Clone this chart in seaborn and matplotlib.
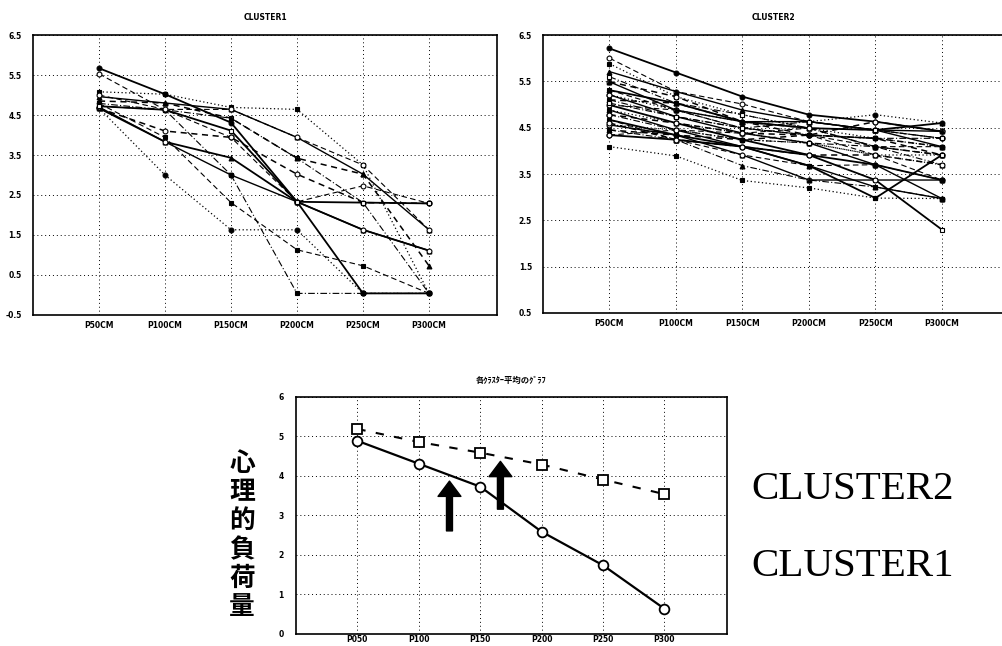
import matplotlib
matplotlib.use("Agg")
import matplotlib.pyplot as plt
import seaborn as sns

sns.set_theme(style="white")
plt.rcParams['font.family'] = ['DejaVu Sans', 'Noto Sans CJK JP']
plt.rcParams['text.color'] = 'black'
plt.rcParams['xtick.color'] = 'black'
plt.rcParams['ytick.color'] = 'black'

# ---- data -------------------------------------------------------------
dist_labels = ['P50CM', 'P100CM', 'P150CM', 'P200CM', 'P250CM', 'P300CM']
mean_labels = ['P050', 'P100', 'P150', 'P200', 'P250', 'P300']

# cluster 1 individual profiles
c1_lines = [
    [5.67, 5.02, 4.31, 2.33, 0.04, 0.04],
    [5.53, 4.63, 3.94, 2.33, 2.73, 2.29],
    [5.08, 5.02, 4.69, 4.64, 3.25, 0.04],
    [4.96, 4.80, 4.64, 3.94, 3.02, 1.63],
    [4.79, 4.63, 4.42, 3.42, 2.31, 0.04],
    [4.67, 4.10, 3.94, 3.02, 2.31, 2.29],
    [4.67, 3.83, 3.43, 2.33, 1.63, 1.11],
    [4.79, 3.94, 2.31, 1.13, 0.73, 0.04],
    [4.67, 3.00, 1.63, 1.63, 0.04, 0.04],
    [4.70, 3.83, 3.00, 2.33, 1.63, 1.11],
    [4.72, 4.63, 3.00, 0.04, 0.04, 0.04],
    [4.85, 4.80, 4.42, 3.42, 3.02, 0.73],
    [4.72, 4.63, 4.11, 2.33, 2.31, 2.29],
    [5.00, 4.64, 4.64, 3.94, 3.25, 1.63],
]

# cluster 2 individual profiles
c2_lines = [
    [6.21, 5.69, 5.17, 4.78, 4.63, 4.42],
    [6.00, 5.28, 5.01, 4.63, 4.45, 4.27],
    [5.88, 5.17, 4.78, 4.49, 4.27, 4.09],
    [5.71, 5.28, 4.88, 4.63, 4.45, 4.09],
    [5.60, 5.03, 4.78, 4.49, 4.09, 3.70],
    [5.49, 5.17, 4.63, 4.34, 4.27, 3.91],
    [5.31, 5.03, 4.63, 4.49, 4.45, 4.60],
    [5.31, 4.88, 4.49, 4.34, 3.91, 3.37],
    [5.21, 4.88, 4.63, 4.63, 4.78, 4.60],
    [5.21, 4.74, 4.38, 4.17, 3.70, 2.97],
    [5.10, 4.74, 4.49, 4.34, 4.27, 4.27],
    [5.10, 5.03, 4.63, 4.49, 4.09, 3.91],
    [4.99, 4.60, 4.24, 3.91, 3.37, 2.30],
    [4.99, 4.88, 4.49, 4.34, 4.09, 4.09],
    [4.88, 4.60, 4.38, 4.17, 3.91, 3.70],
    [4.88, 4.45, 4.09, 3.68, 3.22, 2.97],
    [4.78, 4.45, 4.24, 4.17, 4.09, 3.91],
    [4.78, 4.60, 4.38, 4.34, 4.63, 4.42],
    [4.67, 4.34, 4.09, 3.68, 2.98, 3.91],
    [4.67, 4.24, 3.91, 3.68, 3.70, 3.37],
    [4.56, 4.45, 4.24, 4.17, 3.91, 3.91],
    [4.56, 4.34, 3.91, 3.37, 3.37, 3.37],
    [4.45, 4.24, 3.68, 3.37, 3.22, 2.97],
    [4.45, 4.34, 4.24, 4.34, 4.27, 4.09],
    [4.34, 4.24, 4.09, 3.91, 3.70, 3.37],
    [4.34, 4.45, 4.38, 4.49, 4.45, 4.27],
    [4.09, 3.89, 3.36, 3.20, 2.98, 2.97],
    [5.49, 4.88, 4.63, 4.63, 4.45, 4.42],
    [5.03, 4.74, 4.49, 4.63, 4.45, 4.27],
    [4.60, 4.24, 4.09, 3.91, 3.91, 3.70],
]

# cluster means
mean_c2 = [5.19, 4.86, 4.59, 4.29, 3.91, 3.54]
mean_c1 = [4.89, 4.31, 3.73, 2.59, 1.74, 0.64]

c1_ticks = [6.5, 5.5, 4.5, 3.5, 2.5, 1.5, 0.5, -0.5]
c2_ticks = [6.5, 5.5, 4.5, 3.5, 2.5, 1.5, 0.5]
mean_ticks = [0, 1, 2, 3, 4, 5, 6]

# ---- line styles (cycled) ---------------------------------------------
line_styles = ['-', (0, (5, 3)), (0, (1, 2)), '-', (0, (6, 2, 1, 2)), (0, (4, 3))]
marker_styles = ['o', 'o', 's', '^', 's', 'o', '^', 's']
marker_filled = [True, False, True, True, False, False, True, True]
line_widths = [1.3, 0.8, 0.9, 1.0, 0.8, 1.1]

fig = plt.figure(figsize=(10.03, 6.46), dpi=100)
grid_kw = dict(color='black', linestyle=(0, (1, 3)), linewidth=0.7)
tick_font = dict(family='DejaVu Sans', weight='bold', size=5.5)


def style_axes(ax, yticks, ylim, xlim, ypad, xpad):
    ax.set_ylim(*ylim)
    ax.set_xlim(*xlim)
    ax.set_yticks(yticks)
    ax.set_yticklabels([f'{t:.1f}' if isinstance(t, float) else str(t) for t in yticks],
                       **tick_font)
    for lab in ax.get_xticklabels():
        lab.set_fontproperties(matplotlib.font_manager.FontProperties(**tick_font))
    ax.tick_params(axis='y', length=0, pad=ypad)
    ax.tick_params(axis='x', length=0, pad=xpad)
    ax.grid(True, **grid_kw)
    for sp in ax.spines.values():
        sp.set_color('black')
        sp.set_linewidth(1.2)
    ax.set_xlabel('')
    ax.set_ylabel('')


def draw_profiles(ax, lines, labels):
    for i, vals in enumerate(lines):
        filled = marker_filled[i % len(marker_filled)]
        sns.lineplot(x=labels, y=vals, sort=False, ax=ax, color='black',
                     linestyle=line_styles[i % len(line_styles)],
                     linewidth=line_widths[i % len(line_widths)],
                     marker=marker_styles[i % len(marker_styles)], markersize=3.5,
                     mfc='black' if filled else 'white', mec='black', mew=0.8)


# CLUSTER1
ax1 = fig.add_axes([0.0329, 0.5124, 0.4626, 0.4334])
draw_profiles(ax1, c1_lines, dist_labels)
style_axes(ax1, c1_ticks, (-0.5, 6.5), (-1, 6.03), 8, 4)
ax1.set_title('CLUSTER1', fontsize=5.5, weight='bold', family='DejaVu Sans', pad=11)

# CLUSTER2
ax2 = fig.add_axes([0.5414, 0.5155, 0.4586, 0.4303])
draw_profiles(ax2, c2_lines, dist_labels)
style_axes(ax2, c2_ticks, (0.5, 6.5), (-1, 5.92), 8, 4)
ax2.set_title('CLUSTER2', fontsize=5.5, weight='bold', family='DejaVu Sans', pad=11)

# mean profiles
ax3 = fig.add_axes([0.2951, 0.0186, 0.4297, 0.3669])
sns.lineplot(x=mean_labels, y=mean_c2, sort=False, ax=ax3, color='black',
             linestyle=(0, (4, 5)), linewidth=1.5, marker='s', markersize=7,
             mfc='white', mec='black', mew=1.3)
sns.lineplot(x=mean_labels, y=mean_c1, sort=False, ax=ax3, color='black',
             linestyle='-', linewidth=1.6, marker='o', markersize=7,
             mfc='white', mec='black', mew=1.3)
style_axes(ax3, mean_ticks, (0, 6), (-1, 6.02), 9, 0.5)
ax3.set_title('各ｸﾗｽﾀｰ平均のｸﾞﾗﾌ', fontsize=6, weight='bold',
              family=['Noto Sans CJK JP', 'DejaVu Sans'], pad=10)

arrow_kw = dict(facecolor='black', edgecolor='black', width=4.3,
                headwidth=16.5, headlength=11, shrink=0)
ax3.annotate('', xy=(1.50, 3.87), xytext=(1.50, 2.61), arrowprops=arrow_kw)
ax3.annotate('', xy=(2.33, 4.37), xytext=(2.33, 3.16), arrowprops=arrow_kw)

fig.text(0.2413, 0.1718, '心\n理\n的\n負\n荷\n量', ha='center', va='center',
         fontsize=18.5, weight='bold', linespacing=1.08, color='black',
         family=['Noto Sans CJK JP', 'DejaVu Sans'])
fig.text(0.749, 0.2415, 'CLUSTER2', ha='left', va='center', fontsize=29.5,
         family='Liberation Serif', color='black')
fig.text(0.749, 0.1223, 'CLUSTER1', ha='left', va='center', fontsize=29.5,
         family='Liberation Serif', color='black')

fig.savefig('out.png', dpi=100)
